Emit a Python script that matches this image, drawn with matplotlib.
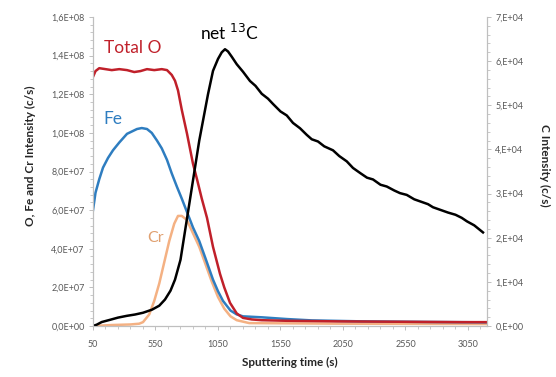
import numpy as np
import matplotlib
matplotlib.use("Agg")
import matplotlib.pyplot as plt
from matplotlib.ticker import MultipleLocator, FuncFormatter

plt.rcParams['font.family'] = ['Lato', 'DejaVu Sans']

# Total O (left axis, c/s)
o_t = [50, 70, 100, 150, 200, 260, 322, 380, 430, 482, 540, 600, 642, 680, 706, 730,
       760, 802, 850, 882, 920, 962, 1010, 1066, 1100, 1146, 1200, 1250, 1320, 1400,
       1600, 2000, 2500, 3000, 3200]
o_v = [1.29e8, 1.32e8, 1.335e8, 1.33e8, 1.325e8, 1.33e8, 1.325e8, 1.315e8, 1.32e8,
       1.33e8, 1.325e8, 1.33e8, 1.325e8, 1.30e8, 1.27e8, 1.22e8,
       1.12e8, 9.96e7, 8.4e7, 7.6e7, 6.6e7, 5.6e7, 4.1e7, 2.7e7, 2.0e7, 1.2e7, 6.5e6,
       4.2e6, 3.4e6, 3.0e6, 2.7e6, 2.4e6, 2.2e6, 2.0e6, 2.0e6]

# Fe (left axis)
fe_t = [50, 70, 100, 130, 170, 210, 260, 322, 370, 402, 440, 482, 520, 562, 600, 642,
        680, 722, 760, 802, 850, 900, 950, 1010, 1050, 1090, 1150, 1200, 1250, 1400,
        1600, 1800, 2200, 2700, 3200]
fe_v = [6.0e7, 6.9e7, 7.6e7, 8.2e7, 8.7e7, 9.1e7, 9.5e7, 9.95e7, 1.01e8, 1.02e8,
        1.025e8, 1.02e8, 1.0e8, 9.6e7, 9.2e7, 8.6e7,
        7.9e7, 7.2e7, 6.6e7, 5.9e7, 5.1e7, 4.4e7, 3.5e7, 2.4e7, 1.8e7, 1.3e7, 8.0e6,
        6.0e6, 5.0e6, 4.5e6, 3.6e6, 2.9e6, 2.4e6, 2.1e6, 1.9e6]

# Cr (left axis)
cr_t = [50, 200, 350, 420, 450, 500, 540, 580, 620, 660, 700, 730, 760, 800, 850, 900,
        950, 1000, 1050, 1100, 1150, 1200, 1300, 2000, 3200]
cr_v = [0.0, 5e5, 8e5, 1.2e6, 2e6, 6e6, 1.3e7, 2.2e7, 3.3e7, 4.4e7, 5.3e7, 5.7e7,
        5.7e7, 5.5e7, 4.8e7, 4.1e7, 3.2e7, 2.3e7, 1.5e7, 9e6, 5e6, 3e6, 1.5e6, 1.2e6, 1.0e6]

# net 13C (right axis, c/s)
c_t = [50, 80, 120, 186, 250, 320, 386, 450, 522, 580, 626, 670, 706, 750, 800, 850,
       900, 930, 970, 1010, 1050, 1080, 1106, 1130, 1160, 1200, 1250, 1306, 1350, 1400,
       1450, 1490, 1550, 1600, 1650, 1706, 1760, 1800, 1850, 1900, 1970, 2020, 2080,
       2130, 2190, 2242, 2290, 2350, 2400, 2460, 2506, 2560, 2620, 2680, 2730, 2770,
       2830, 2890, 2950, 3000, 3042, 3100, 3170]
c_v = [0, 300, 900, 1400, 1900, 2300, 2600, 3000, 3700, 4600, 6000, 8000, 10500,
       15000, 24000, 33000, 42000, 46500, 52500, 57800, 60500, 62000, 62700, 62200,
       61000, 59300, 57600, 55500, 54400, 52600, 51500, 50300, 48600, 47700, 46000,
       44800, 43300, 42300, 41800, 40700, 39800, 38500, 37300, 35800, 34600, 33600,
       33200, 32000, 31600, 30700, 30100, 29700, 28700, 28100, 27600, 26900, 26300,
       25700, 25200, 24500, 23700, 22800, 21200]

red = '#C0202A'
blue = '#2E7DC0'
orange = '#F4B183'
grey = '#BFBFBF'
tick_c = '#595959'


def left_fmt(v, pos):
    if v <= 0:
        return '0,0E+00'
    e = int(np.floor(np.log10(v)))
    m = v / 10 ** e
    return f"{m:.1f}".replace('.', ',') + f"E+{e:02d}"


def right_fmt(v, pos):
    if v <= 0:
        return '0,E+00'
    e = int(np.floor(np.log10(v)))
    m = v / 10 ** e
    return f"{m:.0f},E+{e:02d}"


fig = plt.figure(figsize=(5.56, 3.77), dpi=100)
ax = fig.add_axes([93 / 556, 1 - 326 / 377, (487 - 93) / 556, (326 - 17) / 377])
ax2 = ax.twinx()

ax.plot(cr_t, cr_v, color=orange, lw=1.8)
ax.plot(fe_t, fe_v, color=blue, lw=1.8)
ax.plot(o_t, o_v, color=red, lw=1.8)
ax2.plot(c_t, c_v, color='black', lw=1.8)

ax.set_xlim(50, 3202)
ax.set_ylim(0, 1.6e8)
ax2.set_ylim(0, 7e4)

ax.xaxis.set_major_locator(MultipleLocator(500, offset=50))
ax.xaxis.set_minor_locator(MultipleLocator(100, offset=50))
ax.yaxis.set_major_locator(MultipleLocator(2e7))
ax.yaxis.set_minor_locator(MultipleLocator(4e6))
ax2.yaxis.set_major_locator(MultipleLocator(1e4))
ax2.yaxis.set_minor_locator(MultipleLocator(2e3))
ax.yaxis.set_major_formatter(FuncFormatter(left_fmt))
ax2.yaxis.set_major_formatter(FuncFormatter(right_fmt))

for a in (ax, ax2):
    for s in a.spines.values():
        s.set_color(grey)
        s.set_linewidth(0.8)
    a.spines['top'].set_visible(False)
    a.tick_params(which='major', length=3, width=0.7, color=grey,
                  labelsize=6.5, labelcolor=tick_c, pad=3)
    a.tick_params(which='minor', length=2, width=0.6, color=grey)
ax.tick_params(axis='x', which='major', pad=7)

ax.set_xlabel('Sputtering time (s)', fontsize=8.5, fontweight='bold', color='#262626', labelpad=6)
ax.set_ylabel('O, Fe and Cr Intensity (c/s)', fontsize=8.5, fontweight='bold', color='#262626')
ax.yaxis.set_label_coords(-0.145, 0.55)
ax2.set_ylabel('C Intensity (c/s)', fontsize=8.5, fontweight='bold', color='#262626',
               rotation=270, va='center')
ax2.yaxis.set_label_coords(1.145, 0.52)

ax.text(370, 1.44e8, 'Total O', color=red, fontsize=12.5, ha='center', va='center')
ax.text(212, 1.074e8, 'Fe', color=blue, fontsize=12.5, ha='center', va='center')
ax.text(554, 4.54e7, 'Cr', color='#E0A070', fontsize=11.5, ha='center', va='center')
ax.text(1146, 1.52e8, 'net $^{13}$C', color='black', fontsize=12.5, ha='center', va='center')

fig.savefig('out.png', dpi=100)
